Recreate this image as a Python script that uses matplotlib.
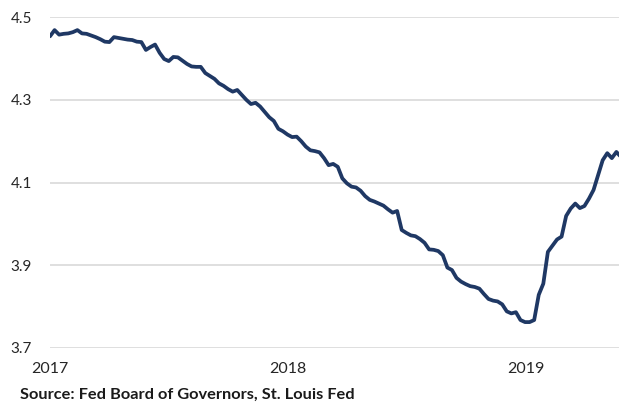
import matplotlib
matplotlib.use("Agg")
import matplotlib.pyplot as plt
import pandas as pd

# Weekly series, Jan 2017 - mid 2019
start_date = "2017-01-01"
values = [
    4.454, 4.469, 4.458, 4.460, 4.461, 4.464, 4.469, 4.461, 4.460, 4.456,
    4.452, 4.447, 4.441, 4.440, 4.452, 4.450, 4.448, 4.446, 4.445, 4.441,
    4.440, 4.421, 4.428, 4.434, 4.414, 4.399, 4.394, 4.404, 4.403, 4.395,
    4.387, 4.381, 4.380, 4.380, 4.365, 4.358, 4.351, 4.340, 4.334, 4.326,
    4.320, 4.324, 4.312, 4.300, 4.290, 4.293, 4.284, 4.271, 4.258, 4.249,
    4.230, 4.224, 4.216, 4.210, 4.211, 4.200, 4.187, 4.178, 4.176, 4.173,
    4.159, 4.142, 4.145, 4.138, 4.110, 4.098, 4.090, 4.088, 4.080, 4.067,
    4.058, 4.054, 4.049, 4.044, 4.035, 4.027, 4.031, 3.985, 3.978, 3.972,
    3.970, 3.963, 3.954, 3.938, 3.937, 3.934, 3.924, 3.894, 3.888, 3.869,
    3.860, 3.854, 3.849, 3.847, 3.843, 3.830, 3.818, 3.814, 3.812, 3.805,
    3.788, 3.783, 3.786, 3.767, 3.762, 3.762, 3.767, 3.828, 3.855, 3.932,
    3.947, 3.962, 3.969, 4.019, 4.037, 4.049, 4.038, 4.043, 4.061, 4.082,
    4.118, 4.154, 4.171, 4.159, 4.174, 4.162,
]
y_ticks = [3.7, 3.9, 4.1, 4.3, 4.5]
x_ticks = ["2017-01-01", "2018-01-01", "2019-01-01"]
x_labels = ["2017", "2018", "2019"]
source_text = "Source: Fed Board of Governors, St. Louis Fed"

dates = pd.date_range(start_date, periods=len(values), freq="7D")

plt.rcParams["font.family"] = ["Lato", "DejaVu Sans"]

fig = plt.figure(figsize=(6.19, 4.05), dpi=100)
ax = fig.add_axes([50 / 619, 1 - 347.7 / 405, 1 - 50 / 619, (347.7 - 17.3) / 405])

ax.plot(dates, values, color="#1f3864", lw=2.7, solid_joinstyle="round",
        solid_capstyle="round", zorder=3)

ax.set_ylim(3.7, 4.5)
ax.set_xlim(pd.Timestamp(start_date), pd.Timestamp(start_date) + pd.Timedelta(days=872))

ax.set_yticks(y_ticks)
ax.set_yticklabels([f"{v:.1f}" for v in y_ticks])
ax.set_xticks([pd.Timestamp(d) for d in x_ticks])
ax.set_xticklabels(x_labels)

ax.grid(axis="y", color="#d9d9d9", lw=1.2)
ax.grid(axis="x", visible=False)
for s in ax.spines.values():
    s.set_visible(False)
ax.tick_params(axis="both", length=0, colors="#262626")
ax.tick_params(axis="y", labelsize=11, pad=13)
ax.tick_params(axis="x", labelsize=11.5, pad=10)

fig.text(20 / 619, 1 - 395 / 405, source_text, fontsize=11.8, fontweight="bold",
         color="#1a1a1a", ha="left", va="center")

fig.savefig("out.png", dpi=100)
